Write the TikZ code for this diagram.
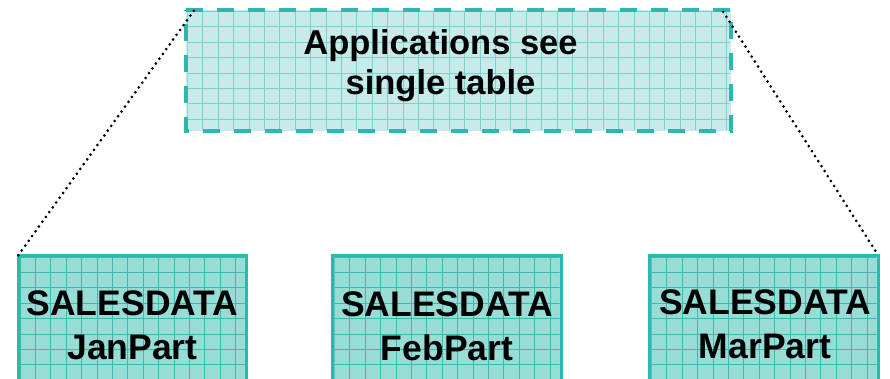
\documentclass[tikz,border=0pt]{standalone}
\usepackage{fontspec}
\setmainfont{Liberation Sans}
\usetikzlibrary{calc}

\definecolor{tealline}{HTML}{2DB7AD}
\definecolor{partfill}{HTML}{97DCD5}
\definecolor{partgrid}{HTML}{3DB9AF}
\definecolor{viewfill}{HTML}{C6EBE8}
\definecolor{viewgrid}{HTML}{7ED2CB}

\tikzset{
  partbox/.style={fill=partfill,
    minimum width=228pt, minimum height=132.5pt, inner sep=0pt},
  viewbox/.style={fill=viewfill, minimum width=545pt,
    minimum height=121pt, inner sep=0pt},
  boxtext/.style={font=\bfseries\fontsize{35.5}{44}\selectfont,
    align=center, inner sep=0pt},
  viewtext/.style={font=\bfseries\fontsize{34.5}{40}\selectfont,
    align=center, inner sep=0pt},
  dotline/.style={line width=3pt, line cap=round,
    dash pattern=on 0pt off 5.9pt},
}

% grid drawn inside a box, starting from its north-west corner
\newcommand{\boxgrid}[3]{%
  \begin{scope}
    \clip ($(#1.north west)+(1.5,-1.5)$) rectangle ($(#1.south east)+(-1.5,1.5)$);
    \begin{scope}[shift={($(#1.north west)+(1.6,-1.6)$)}]
      \draw[#2, line width=#3] (-20,20) grid[step=15.4] (600,-200);
    \end{scope}
  \end{scope}}

\begin{document}
\begin{tikzpicture}[x=1pt, y=1pt]
  \useasboundingbox (0,0) rectangle (890,378);

  % the three partitions
  \node[partbox] (jan) at (132.5,56.25) {};
  \node[partbox] (feb) at (447,56.25) {};
  \node[partbox] (mar) at (764,56.25) {};
  \foreach \b in {jan,feb,mar} {\boxgrid{\b}{partgrid}{0.7pt}}
  \foreach \b in {jan,feb,mar} {
    \draw[tealline, line width=3pt] (\b.south west) -- (\b.north west)
      -- (\b.north east) -- (\b.south east);
  }

  \node[boxtext] (jantext) at (132.5,53) {SALESDATA\\JanPart};
  \node[boxtext] (febtext) at (447,52) {SALESDATA\\FebPart};
  \node[boxtext] (martext) at (765,54) {SALESDATA\\MarPart};

  % the single table seen by applications
  \node[viewbox] (view) at (458.5,307.5) {};
  \boxgrid{view}{viewgrid}{0.8pt}
  \draw[tealline, line width=4pt, dash pattern=on 17pt off 14pt]
    (view.north west) -- (view.north east) -- (view.south east)
    -- (view.south west) -- cycle;
  \node[viewtext] (viewlabel) at (440.5,312) {Applications see\\single table};

  % dotted projection lines
  \coordinate (vl) at ($(view.north west)+(8,-1)$);
  \coordinate (vr) at ($(view.north east)+(-8,-2)$);
  \draw[dotline] (vl) -- (jan.north west);
  \draw[dotline] (vr) -- (mar.north east);
\end{tikzpicture}
\end{document}
